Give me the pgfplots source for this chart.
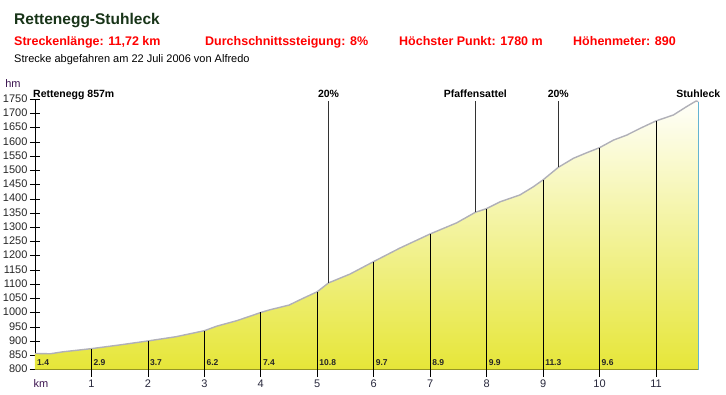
\documentclass[border=0pt]{standalone}
\usepackage{pgfplots}
\usepackage{pgfplotstable}
\pgfplotsset{compat=1.18}
\usepackage{fontspec}
\setmainfont{Liberation Sans}
\definecolor{titlegreen}{RGB}{24,52,24}
\definecolor{infored}{RGB}{255,0,0}
\definecolor{unitpurple}{RGB}{60,20,80}
\definecolor{ticknum}{RGB}{40,40,60}
\definecolor{profline}{RGB}{176,176,184}
\definecolor{endcyan}{RGB}{100,180,210}
\definecolor{fillbot}{RGB}{230,230,56}
\definecolor{filltop}{RGB}{255,255,250}

\pgfplotstableread{
km elev
0.00 857
0.27 856
0.50 863
1.00 874
1.50 887
2.00 901
2.50 916
3.00 937
3.22 953
3.57 972
3.81 988
4.00 1001
4.15 1010
4.50 1027
4.75 1051
5.00 1074
5.20 1105
5.58 1136
6.00 1180
6.46 1227
7.00 1277
7.47 1316
7.80 1353
8.00 1366
8.24 1390
8.59 1414
8.83 1443
9.00 1467
9.27 1511
9.54 1543
9.77 1562
10.00 1580
10.25 1607
10.48 1624
10.72 1648
11.00 1674
11.31 1695
11.54 1724
11.71 1744
11.75 1742
}\profile

% km marker lines (from below the axis up to the profile)
\pgfplotstableread{
km elev
1 775
1 874
1 nan
2 775
2 901
2 nan
3 775
3 937
3 nan
4 775
4 1001
4 nan
5 775
5 1074
5 nan
6 775
6 1180
6 nan
7 775
7 1277
7 nan
8 775
8 1366
8 nan
9 775
9 1467
9 nan
10 775
10 1580
10 nan
11 775
11 1674
}\kmlines

% point-of-interest lines
\pgfplotstableread{
km elev
5.20 1105
5.20 1744
5.20 nan
7.80 1353
7.80 1744
7.80 nan
9.27 1511
9.27 1744
}\poilines

% gradient per km
\pgfplotstableread{
km grad
0 1.4
1 2.9
2 3.7
3 6.2
4 7.4
5 10.8
6 9.7
7 8.9
8 9.9
9 11.3
10 9.6
}\grads

\begin{document}
\begin{tikzpicture}
\path[use as bounding box] (0,0) rectangle (726pt,394pt);

\node[anchor=base west, inner sep=0, text=titlegreen, font=\fontsize{15.5}{18}\selectfont\bfseries] at (14pt,369.7pt) {Rettenegg-Stuhleck};
\begin{scope}[every node/.style={anchor=base west, inner sep=0, text=infored, font=\fontsize{12.5}{15}\selectfont\bfseries}]
\node at (14pt,348.3pt) {Streckenlänge: 11,72 km};
\node at (205pt,348.3pt) {Durchschnittssteigung: 8\%};
\node at (399pt,348.3pt) {Höchster Punkt: 1780 m};
\node at (573pt,348.3pt) {Höhenmeter: 890};
\end{scope}
\node[anchor=base west, inner sep=0, font=\fontsize{11}{13}\selectfont] at (14pt,331.3pt) {Strecke abgefahren am 22 Juli 2006 von Alfredo};
\node[anchor=center, inner sep=0, text=unitpurple, font=\fontsize{11}{13}\selectfont] at (13pt,310pt) {hm};
\node[anchor=base, inner sep=0, text=unitpurple, font=\fontsize{11}{13}\selectfont] at (41pt,6.7pt) {km};

\begin{axis}[
  at={(35pt,24.3pt)}, anchor=south west,
  scale only axis, width=663.3pt, height=270.4pt,
  xmin=0, xmax=11.75, ymin=800, ymax=1750,
  clip=false,
  axis lines=left,
  axis line style={-, black, line width=1.2pt},
  y axis line style={line width=0.8pt},
  xtick={1,...,11},
  ytick={800,850,...,1750},
  tick align=center,
  major tick length=10pt,
  xtick style={draw=none},
  ytick style={black, line width=0.8pt},
  /pgf/number format/assume math mode=true,
  /pgf/number format/1000 sep={},
  ticklabel style={font=\fontsize{11}{13}\selectfont},
  yticklabel style={text=black!85, anchor=base east, yshift=-3pt, xshift=1pt},
  xticklabel style={text=ticknum, anchor=base, yshift=-13pt},
  unbounded coords=jump,
]
\addplot[draw=none, top color=filltop, bottom color=fillbot] table[x=km, y=elev] {\profile} -- (11.75,800) -- (0,800) -- cycle;
\addplot[profline, line width=1.4pt, line join=round] table[x=km, y=elev] {\profile};
\addplot[black, line width=0.8pt] table[x=km, y=elev] {\kmlines};
\addplot[black!80, line width=0.8pt] table[x=km, y=elev] {\poilines};
\addplot[endcyan, line width=1.5pt] coordinates {(11.75,800) (11.75,1742)};
\addplot[only marks, mark=none, nodes near coords={\pgfmathprintnumber[fixed, precision=1]{\pgfplotspointmeta}},
  point meta=explicit,
  every node near coord/.style={anchor=base west, inner sep=0, xshift=2pt, font=\fontsize{8.5}{9}\selectfont\bfseries, text=black!85}]
  table[x=km, y expr=816, meta=grad] {\grads};

\begin{scope}[every node/.style={inner sep=0, font=\fontsize{10.5}{12}\selectfont\bfseries}]
\node[anchor=base west] at (-0.035,1755) {Rettenegg 857m};
\node[anchor=base] at (5.2,1755) {20\%};
\node[anchor=base] at (7.8,1755) {Pfaffensattel};
\node[anchor=base] at (9.27,1755) {20\%};
\node[anchor=base] at (11.75,1755) {Stuhleck};
\end{scope}
\end{axis}
\end{tikzpicture}
\end{document}
